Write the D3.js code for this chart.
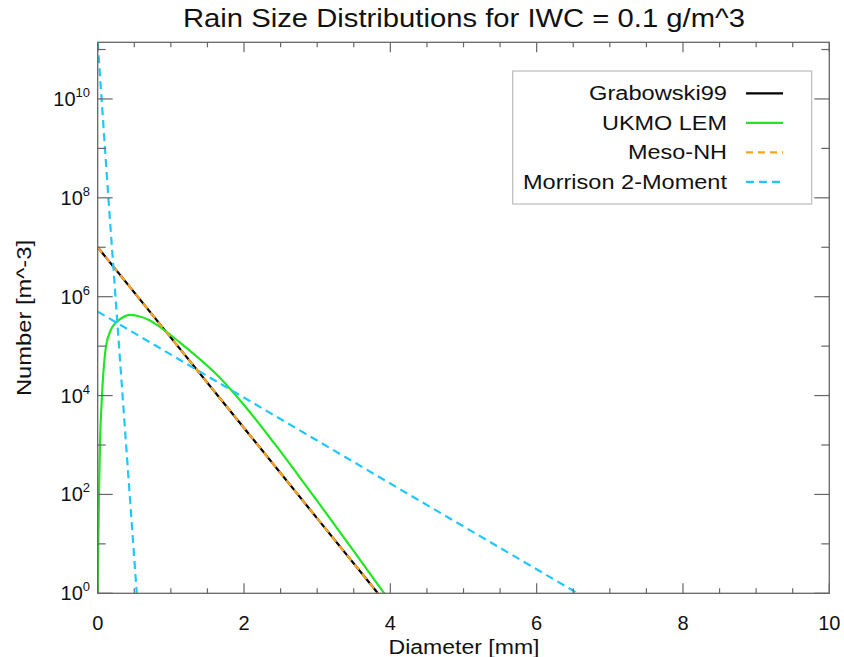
<!DOCTYPE html>
<html lang="en">
<head>
<meta charset="UTF-8">
<title>Rain Size Distributions</title>
<script src="https://cdnjs.cloudflare.com/ajax/libs/d3/7.8.5/d3.min.js"></script>
<style>
  body { margin: 0; background: #fff; }
  text { font-family: "Liberation Sans", Arial, Helvetica, sans-serif; fill: #111; }
</style>
</head>
<body>
<div id="chart"></div>
<script>
// values (diameter in mm, number in m^-3)
var grabD = [0, 1, 2, 3, 3.83, 4.2];
var grabN = [1e7, 1.49e5, 2.21e3, 32.8, 1, 0.21];

var lemD = [0, 0.008, 0.018, 0.031, 0.059, 0.114, 0.178, 0.25, 0.33, 0.44, 0.55, 0.7, 0.85, 1.0, 1.15, 1.3, 1.63, 2.0, 2.41, 2.82, 3.0, 3.5, 3.9, 4.0];
var lemN = [1, 10, 100, 1e3, 1e4, 1e5, 2.1e5, 3.0e5, 3.7e5, 4.27e5, 4.07e5, 3.39e5, 2.45e5, 1.66e5, 1.10e5, 7.24e4, 2.63e4, 6.46e3, 1.10e3, 170, 74, 7.16, 1.08, 0.68];

var mesoD = [0, 1, 2, 3, 3.83, 4.2];
var mesoN = [1e7, 1.49e5, 2.21e3, 32.8, 1, 0.21];

// Morrison has two straight pieces
var morSteepD = [0, 0.146, 0.534];
var morSteepN = [1.4e11, 1e8, 1];
var morShallowD = [0, 2, 4, 6.56];
var morShallowN = [5e5, 9.1e3, 1.66e2, 1];

var xTicks = [0, 2, 4, 6, 8, 10];
var yTickExp = [0, 2, 4, 6, 8, 10];

var legendNames = ["Grabowski99", "UKMO LEM", "Meso-NH", "Morrison 2-Moment"];
var legendWidths = [138, 125, 99, 204];
var colors = ["#000000", "#22e622", "#ffa31a", "#1ec8ff"];
var dashes = [null, null, "7,5", "8,5"];

var width = 844, height = 657;
var pLeft = 97.7, pRight = 829.3, pTop = 42.3, pBottom = 593.3;

var svg = d3.select("#chart").append("svg")
  .attr("width", width).attr("height", height);

var x = d3.scaleLinear().domain([0, 10]).range([pLeft, pRight]);
var y = d3.scaleLog().domain([1, 1.4e11]).range([pBottom, pTop]);

svg.append("clipPath").attr("id", "clip")
  .append("rect").attr("x", pLeft).attr("y", pTop)
  .attr("width", pRight - pLeft).attr("height", pBottom - pTop);

var plot = svg.append("g").attr("clip-path", "url(#clip)");

var line = d3.line().x(function(d) { return x(d[0]); }).y(function(d) { return y(d[1]); });
var smooth = d3.line().curve(d3.curveMonotoneX)
  .x(function(d) { return x(d[0]); }).y(function(d) { return y(d[1]); });

function pairs(a, b) { return a.map(function(v, i) { return [v, b[i]]; }); }

plot.append("path").attr("d", line(pairs(grabD, grabN)))
  .attr("fill", "none").attr("stroke", colors[0]).attr("stroke-width", 2.2);
plot.append("path").attr("d", smooth(pairs(lemD, lemN)))
  .attr("fill", "none").attr("stroke", colors[1]).attr("stroke-width", 2.2);
plot.append("path").attr("d", line(pairs(mesoD, mesoN)))
  .attr("fill", "none").attr("stroke", colors[2]).attr("stroke-width", 2.2)
  .attr("stroke-dasharray", dashes[2]);
[pairs(morSteepD, morSteepN), pairs(morShallowD, morShallowN)].forEach(function(p) {
  plot.append("path").attr("d", line(p))
    .attr("fill", "none").attr("stroke", colors[3]).attr("stroke-width", 2.2)
    .attr("stroke-dasharray", dashes[3]);
});

// frame
var axisColor = "#666";
svg.append("rect").attr("x", pLeft).attr("y", pTop)
  .attr("width", pRight - pLeft).attr("height", pBottom - pTop)
  .attr("fill", "none").attr("stroke", axisColor).attr("stroke-width", 1.3);

// x ticks, bottom and top
var xMinor = d3.range(0, 10.01, 0.5);
var tk = svg.append("g").attr("stroke", axisColor).attr("stroke-width", 1.2);
xMinor.forEach(function(v) {
  var len = (v % 2 === 0) ? 10 : 5;
  tk.append("line").attr("x1", x(v)).attr("x2", x(v)).attr("y1", pBottom).attr("y2", pBottom - len);
  tk.append("line").attr("x1", x(v)).attr("x2", x(v)).attr("y1", pTop).attr("y2", pTop + len);
});
// y ticks, left and right
d3.range(0, 12).forEach(function(e) {
  var len = (e % 2 === 0) ? 15 : 8;
  var yy = y(Math.pow(10, e));
  tk.append("line").attr("x1", pLeft).attr("x2", pLeft + len).attr("y1", yy).attr("y2", yy);
  tk.append("line").attr("x1", pRight).attr("x2", pRight - len).attr("y1", yy).attr("y2", yy);
});

svg.selectAll(".xl").data(xTicks).enter().append("text")
  .attr("x", function(d) { return x(d); }).attr("y", 630)
  .attr("text-anchor", "middle").attr("font-size", 20)
  .text(function(d) { return d; });

yTickExp.forEach(function(e) {
  var t = svg.append("text").attr("x", 90).attr("y", y(Math.pow(10, e)) + 7)
    .attr("text-anchor", "end").attr("font-size", 20);
  t.append("tspan").text("10");
  t.append("tspan").attr("dy", -9).attr("font-size", 13).text(e);
});

svg.append("text").attr("x", 464).attr("y", 654)
  .attr("text-anchor", "middle").attr("font-size", 20)
  .attr("textLength", 151).attr("lengthAdjust", "spacingAndGlyphs")
  .text("Diameter [mm]");
svg.append("text").attr("transform", "translate(31,318) rotate(-90)")
  .attr("text-anchor", "middle").attr("font-size", 20)
  .attr("textLength", 156).attr("lengthAdjust", "spacingAndGlyphs")
  .text("Number [m^-3]");
svg.append("text").attr("x", 464).attr("y", 27)
  .attr("text-anchor", "middle").attr("font-size", 25)
  .attr("textLength", 562).attr("lengthAdjust", "spacingAndGlyphs")
  .text("Rain Size Distributions for IWC = 0.1 g/m^3");

// legend
var lg = svg.append("g");
lg.append("rect").attr("x", 512.7).attr("y", 71).attr("width", 299).attr("height", 133)
  .attr("fill", "#fff").attr("stroke", "#bbb").attr("stroke-width", 1.2);
legendNames.forEach(function(name, i) {
  var yy = 93.3 + i * 29.5;
  lg.append("text").attr("x", 727).attr("y", yy + 7).attr("text-anchor", "end")
    .attr("font-size", 20)
    .attr("textLength", legendWidths[i]).attr("lengthAdjust", "spacingAndGlyphs")
    .text(name);
  lg.append("line").attr("x1", 746).attr("x2", 783).attr("y1", yy).attr("y2", yy)
    .attr("stroke", colors[i]).attr("stroke-width", 2.2)
    .attr("stroke-dasharray", dashes[i]);
});
</script>
</body>
</html>
